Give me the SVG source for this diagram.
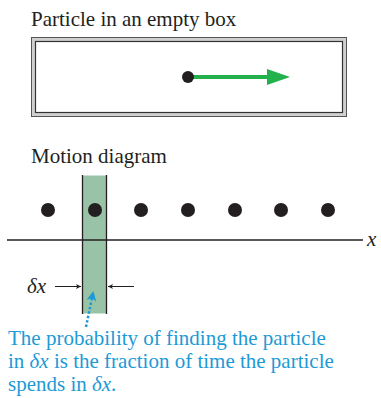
<svg xmlns="http://www.w3.org/2000/svg" width="381" height="398" viewBox="0 0 381 398">
<style>
.t{font-family:"Liberation Serif","DejaVu Serif",serif;font-size:21px;fill:#231f20}
.b{font-family:"Liberation Serif","DejaVu Serif",serif;font-size:21px;fill:#1d9ad6}
.i{font-family:"Liberation Serif","DejaVu Serif",serif;font-style:italic;font-size:21px;fill:#231f20}
.dot{fill:#231f20}
.ax{stroke:#231f20;stroke-width:1.3;fill:none}
</style>
<defs>
<marker id="sa" viewBox="0 0 10 10" refX="10" refY="5" markerWidth="5" markerHeight="5" orient="auto" markerUnits="userSpaceOnUse"><path d="M0,0 L10,5 L0,10 L2.5,5 z" fill="#231f20"/></marker>
<marker id="ba" viewBox="0 0 10 10" refX="8" refY="5" markerWidth="4" markerHeight="4" orient="auto"><path d="M0,0 L10,5 L0,10 L3,5 z" fill="#1d9ad6"/></marker>
</defs>
<g id="title1"><text class="t" x="31" y="26">Particle in an empty box</text></g>
<g id="box">
<rect x="31.5" y="37.5" width="315" height="79" fill="#d0d0d0" stroke="#555" stroke-width="1"/>
<rect x="35.5" y="41.5" width="307" height="71" fill="#fff" stroke="#333" stroke-width="1.2"/>
<line x1="188" y1="77" x2="268" y2="77" stroke="#22b14c" stroke-width="4"/>
<polygon points="267,69 290,77 267,85" fill="#22b14c"/>
<circle class="dot" cx="188" cy="77" r="6"/>
</g>
<g id="title2"><text class="t" x="31" y="163">Motion diagram</text></g>
<g id="strip">
<rect x="82" y="175.5" width="25" height="138" fill="#98c3a6"/>
<line x1="82.5" y1="175" x2="82.5" y2="314" class="ax"/>
<line x1="106.5" y1="175" x2="106.5" y2="314" class="ax"/>
</g>
<g id="axis">
<line x1="7" y1="240" x2="363" y2="240" class="ax"/>
<text class="i" x="367" y="246">x</text>
</g>
<g id="dots">
<circle class="dot" cx="48" cy="210" r="7"/>
<circle class="dot" cx="95" cy="210" r="7"/>
<circle class="dot" cx="141" cy="210" r="7"/>
<circle class="dot" cx="188" cy="210" r="7"/>
<circle class="dot" cx="235" cy="210" r="7"/>
<circle class="dot" cx="281" cy="210" r="7"/>
<circle class="dot" cx="328" cy="210" r="7"/>
</g>
<g id="connectors">
<line x1="55" y1="286.5" x2="81" y2="286.5" stroke="#231f20" stroke-width="1" marker-end="url(#sa)"/>
<line x1="134" y1="286.5" x2="108" y2="286.5" stroke="#231f20" stroke-width="1" marker-end="url(#sa)"/>
<line x1="86" y1="327" x2="93" y2="293" stroke="#1d9ad6" stroke-width="2.5" stroke-dasharray="2.5 2" marker-end="url(#ba)"/>
</g>
<g id="dxlabel"><text class="i" x="27" y="293">δx</text></g>
<g id="caption">
<text class="b" x="8" y="345">The probability of finding the particle</text>
<text class="b" x="8" y="368">in <tspan font-style="italic">δx</tspan> is the fraction of time the particle</text>
<text class="b" x="8" y="391">spends in <tspan font-style="italic">δx</tspan>.</text>
</g>
</svg>
